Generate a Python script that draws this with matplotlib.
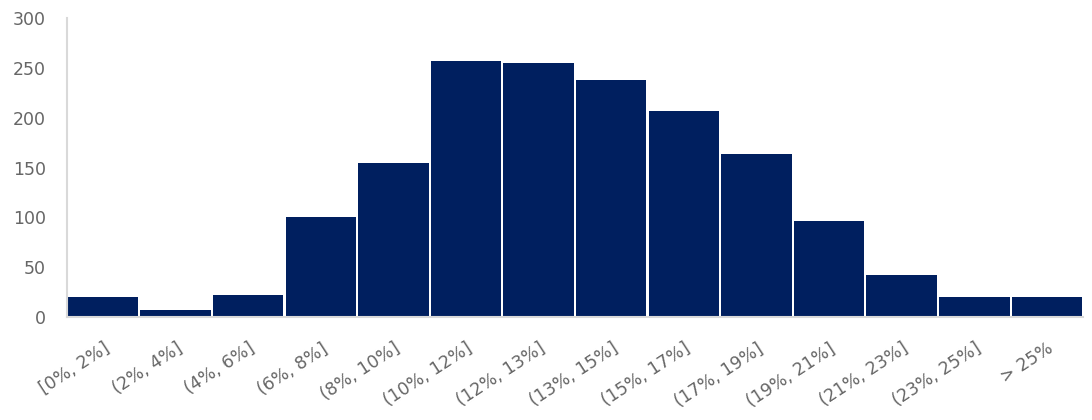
import matplotlib.pyplot as plt
import numpy as np

categories = ["[0%, 2%]", "(2%, 4%]", "(4%, 6%]", "(6%, 8%]", "(8%, 10%]",
              "(10%, 12%]", "(12%, 13%]", "(13%, 15%]", "(15%, 17%]",
              "(17%, 19%]", "(19%, 21%]", "(21%, 23%]", "(23%, 25%]", "> 25%"]
counts = [20, 7, 22, 100, 155, 257, 255, 238, 207, 164, 96, 42, 20, 20]
y_ticks = [0, 50, 100, 150, 200, 250, 300]

plt.rcParams['font.family'] = ['DejaVu Sans']

fig = plt.figure(figsize=(10.92, 4.2), dpi=100)
ax = fig.add_axes([0.061, 0.245, 0.931, 0.712])

x = np.arange(len(categories))
ax.bar(x, counts, width=0.97, color="#001F5F")

ax.set_xlim(-0.5, len(categories) - 0.5)
ax.set_ylim(0, 300)
ax.set_yticks(y_ticks)
ax.set_xticks(x)
ax.set_xticklabels(categories, rotation=33, ha='right', rotation_mode='anchor')

for side in ['top', 'right']:
    ax.spines[side].set_visible(False)
for side in ['left', 'bottom']:
    ax.spines[side].set_color("#d9d9d9")
    ax.spines[side].set_linewidth(1.5)

ax.tick_params(axis='both', length=0, colors="#666666", labelsize=12.5)
ax.tick_params(axis='x', pad=16)
ax.tick_params(axis='y', pad=15)

fig.savefig("out.png", dpi=100)
